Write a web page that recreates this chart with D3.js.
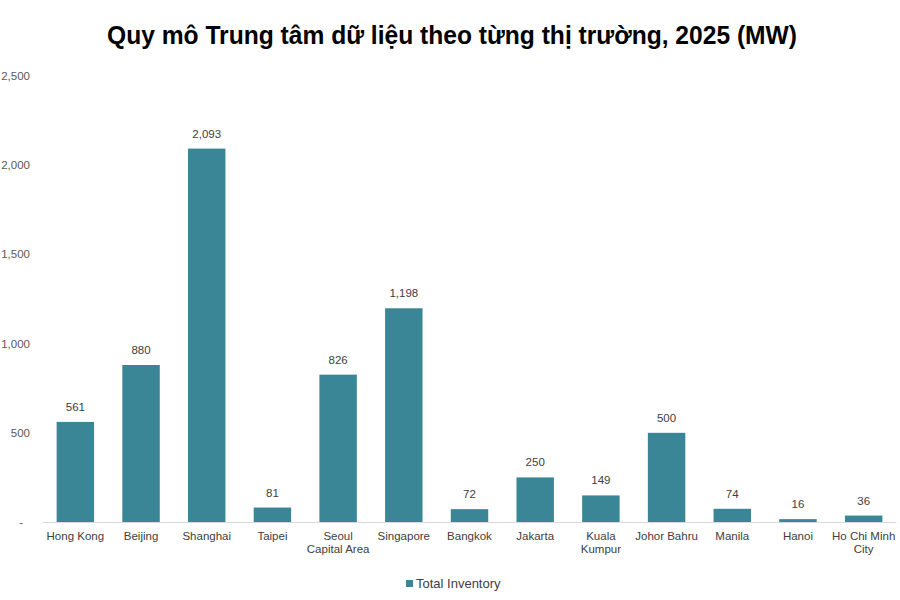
<!DOCTYPE html>
<html>
<head>
<meta charset="utf-8">
<script src="https://cdn.jsdelivr.net/npm/d3@7"></script>
<style>
  body { margin: 0; background: #fff; }
  svg { display: block; }
</style>
</head>
<body>
<svg id="chart" width="900" height="600"></svg>
<script>
const categories = ["Hong Kong", "Beijing", "Shanghai", "Taipei", "Seoul\nCapital Area", "Singapore", "Bangkok", "Jakarta", "Kuala\nKumpur", "Johor Bahru", "Manila", "Hanoi", "Ho Chi Minh\nCity"];
const values = [561, 880, 2093, 81, 826, 1198, 72, 250, 149, 500, 74, 16, 36];
const yTicks = [0, 500, 1000, 1500, 2000, 2500];
const seriesName = "Total Inventory";
const title = "Quy mô Trung tâm dữ liệu theo từng thị trường, 2025 (MW)";

(function () {
const svg = d3.select("#chart");
const font = "'Liberation Sans', Arial, sans-serif";
const barColor = "#3a8596";
const plotLeft = 42.5, plotRight = 896.5, plotTop = 76, plotBottom = 522;

const x = d3.scaleBand().domain(categories).range([plotLeft, plotRight]).paddingInner(0.43).paddingOuter(0.215);
const y = d3.scaleLinear().domain([0, 2500]).range([plotBottom, plotTop]);

svg.append("text")
  .attr("x", 452).attr("y", 44)
  .attr("text-anchor", "middle")
  .attr("font-family", font).attr("font-weight", "bold")
  .attr("font-size", 26).attr("fill", "#000")
  .attr("textLength", 690).attr("lengthAdjust", "spacingAndGlyphs")
  .text(title);

const fmt = d3.format(",");
svg.append("g").selectAll("text").data(yTicks).join("text")
  .attr("x", d => d === 0 ? 23 : 30)
  .attr("y", d => y(d) + 4)
  .attr("text-anchor", "end")
  .attr("font-family", font).attr("font-size", 11.5).attr("fill", "#595959")
  .text(d => d === 0 ? "-" : fmt(d));

svg.append("g").selectAll("rect").data(values).join("rect")
  .attr("x", (d, i) => x(categories[i]))
  .attr("width", x.bandwidth())
  .attr("y", d => y(d))
  .attr("height", d => y(0) - y(d))
  .attr("fill", barColor);

svg.append("line")
  .attr("x1", plotLeft).attr("x2", plotRight)
  .attr("y1", y(0) + 0.5).attr("y2", y(0) + 0.5)
  .attr("stroke", "#d9d9d9").attr("stroke-width", 1);

svg.append("g").selectAll("text").data(values).join("text")
  .attr("x", (d, i) => x(categories[i]) + x.bandwidth() / 2)
  .attr("y", d => y(d) - 11)
  .attr("text-anchor", "middle")
  .attr("font-family", font).attr("font-size", 11.5).attr("fill", "#404040")
  .text(d => fmt(d));

const cat = svg.append("g").selectAll("text").data(categories).join("text")
  .attr("x", d => x(d) + x.bandwidth() / 2)
  .attr("y", 540)
  .attr("text-anchor", "middle")
  .attr("font-family", font).attr("font-size", 11.5).attr("fill", "#404040");
cat.each(function (d) {
  const t = d3.select(this);
  d.split("\n").forEach((line, i) => {
    t.append("tspan").attr("x", x(d) + x.bandwidth() / 2).attr("dy", i === 0 ? 0 : 13).text(line);
  });
});

svg.append("rect").attr("x", 406).attr("y", 580).attr("width", 7).attr("height", 7).attr("fill", barColor);
svg.append("text").attr("x", 416).attr("y", 588)
  .attr("font-family", font).attr("font-size", 13).attr("fill", "#404040")
  .text(seriesName);
})();
</script>
</body>
</html>
